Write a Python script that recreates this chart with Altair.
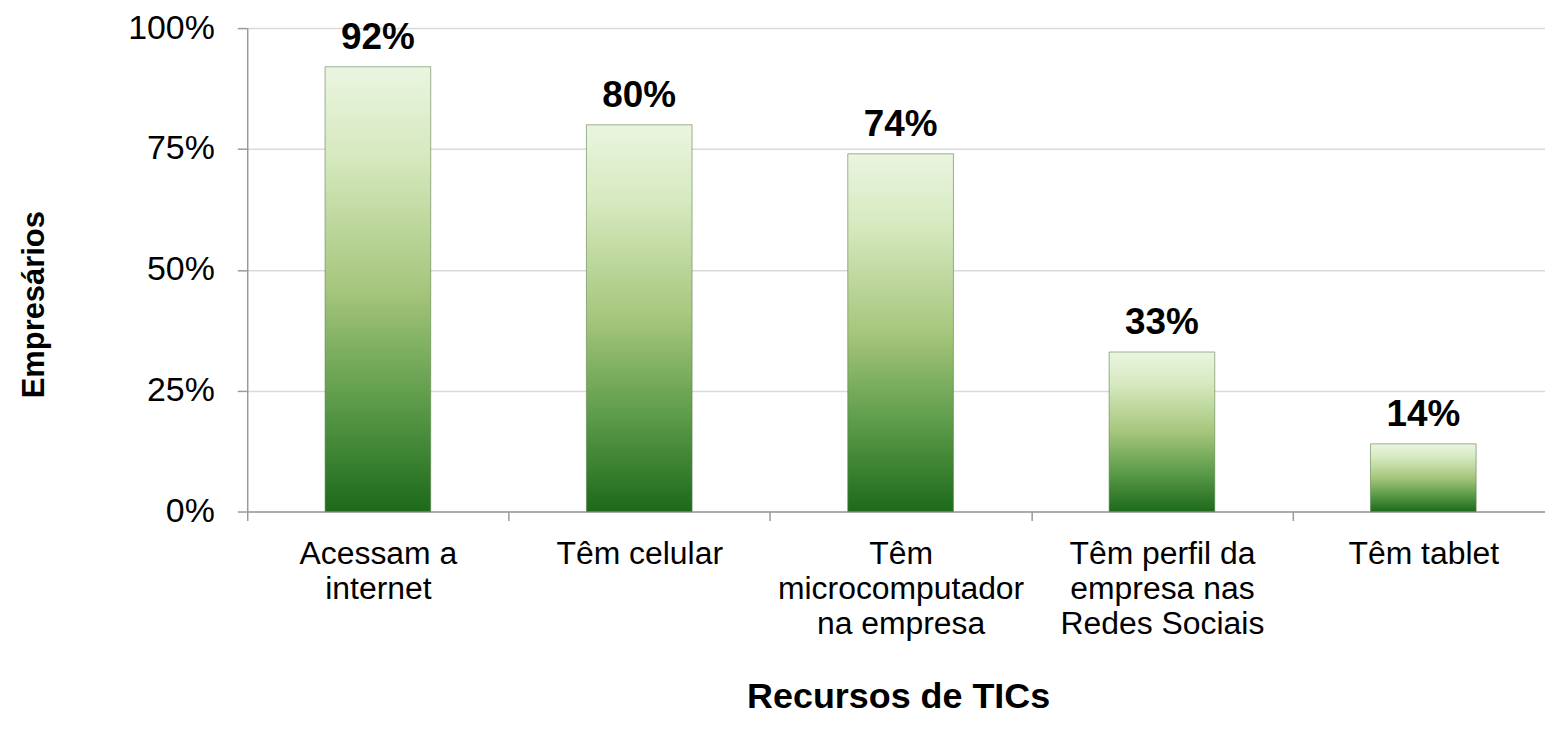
import altair as alt
import pandas as pd

categories = [
    "Acessam a\ninternet",
    "Têm celular",
    "Têm\nmicrocomputador\nna empresa",
    "Têm perfil da\nempresa nas\nRedes Sociais",
    "Têm tablet",
]
values = [92, 80, 74, 33, 14]
y_ticks = [0, 25, 50, 75, 100]

df = pd.DataFrame({"cat": categories, "val": values})
df["label"] = df["val"].astype(str) + "%"

FONT = "Liberation Sans"

gradient = alt.Gradient(
    gradient="linear", x1=0, y1=0, x2=0, y2=1,
    stops=[
        alt.GradientStop(offset=0.0, color="#eaf5e0"),
        alt.GradientStop(offset=0.2, color="#d6e9bf"),
        alt.GradientStop(offset=0.5, color="#a6c67c"),
        alt.GradientStop(offset=0.75, color="#5d9c4a"),
        alt.GradientStop(offset=1.0, color="#1c6a1a"),
    ],
)

x = alt.X(
    "cat:N", sort=None,
    scale=alt.Scale(paddingInner=0, paddingOuter=0, range=[0, 1311]),
    axis=alt.Axis(
        title="Recursos de TICs",
        labelExpr="split(datum.label, '\\n')",
        labelAngle=0, tickBand="extent", grid=False, labelLimit=0,
        domainColor="#9a9a9a", tickColor="#9a9a9a", tickSize=9, tickWidth=1.5, domainWidth=1.5,
        labelPadding=18, labelFont=FONT, labelFontSize=32, labelLineHeight=35, labelColor="black",
        titleFont=FONT, titleFontSize=36, titleFontWeight="bold", titleColor="black",
        titleX=653, titleY=186, titleAlign="center", titleBaseline="middle",
    ),
)
y = alt.Y(
    "val:Q",
    scale=alt.Scale(domain=[0, 100]),
    axis=alt.Axis(
        values=y_ticks, labelExpr="datum.value + '%'",
        title="Empresários", grid=True, gridColor="#d9d9d9", gridWidth=1.5,
        domainColor="#9a9a9a", tickColor="#9a9a9a", tickSize=10, tickWidth=1.5, domainWidth=1.5,
        labelPadding=23, labelFont=FONT, labelFontSize=34, labelColor="black",
        titleFont=FONT, titleFontSize=31, titleFontWeight="bold", titleColor="black",
        titleX=-213, titleY=277, titleAlign="center", titleBaseline="middle",
    ),
)

bars = alt.Chart(df).mark_bar(
    width=106, color=gradient, stroke="#5f7f50", strokeWidth=1, strokeOpacity=0.6
).encode(x=x, y=y)

labels = alt.Chart(df).mark_text(
    dy=-18, baseline="alphabetic", fontSize=37, fontWeight="bold", font=FONT, color="black"
).encode(x=alt.X("cat:N", sort=None), y=alt.Y("val:Q"), text="label:N")

chart = alt.layer(bars, labels).properties(
    width=1302, height=485,
    autosize=alt.AutoSizeParams(type="none"),
    padding={"left": 240, "top": 19, "right": 0, "bottom": 214},
    background="white",
).configure_view(stroke=None)

chart.save("out.html", embed_options={"renderer": "svg", "actions": False})
